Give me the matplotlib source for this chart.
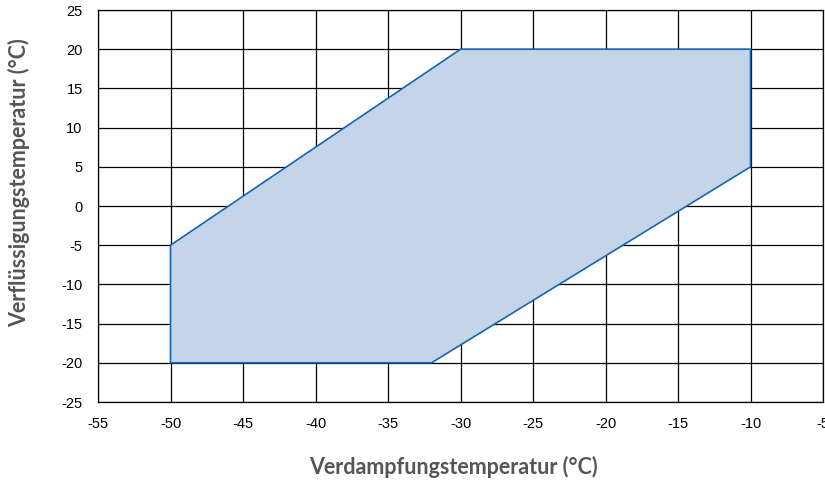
import numpy as np
import matplotlib.pyplot as plt

# Einsatzgrenze (Polygon-Eckpunkte)
evap_temp = [-50, -30, -10, -10, -32, -50]
cond_temp = [-5, 20, 20, 5, -20, -20]

x_ticks = list(range(-55, 0, 5))
y_ticks = list(range(-25, 30, 5))

fig = plt.figure(figsize=(8.25, 4.84), dpi=100)
ax = fig.add_axes([0.1188, 0.1694, 0.8788, 0.8099])

ax.fill(evap_temp, cond_temp, facecolor='#c4d5e9', edgecolor='#1466b0', linewidth=1.2, zorder=2)

ax.set_xlim(-55, -5)
ax.set_ylim(-25, 25)
ax.set_xticks(x_ticks)
ax.set_yticks(y_ticks)
ax.set_xticklabels([str(v) for v in x_ticks], fontsize=10.5, family='Liberation Sans')
ax.set_yticklabels([str(v) for v in y_ticks], fontsize=10.5, family='Liberation Sans')
ax.tick_params(length=0, pad=11)
ax.grid(True, color='black', linewidth=0.9, zorder=1)
ax.set_axisbelow(True)
for s in ax.spines.values():
    s.set_linewidth(0.9)

ax.set_xlabel('Verdampfungstemperatur (°C)', fontsize=15.5, fontweight='bold',
              color='#555555', family='Lato')
ax.set_ylabel('Verflüssigungstemperatur (°C)', fontsize=15.5, fontweight='bold',
              color='#555555', family='Lato')
ax.xaxis.set_label_coords(0.49, -0.137)
ax.yaxis.set_label_coords(-0.094, 0.56)

fig.savefig('out.png', dpi=100)
